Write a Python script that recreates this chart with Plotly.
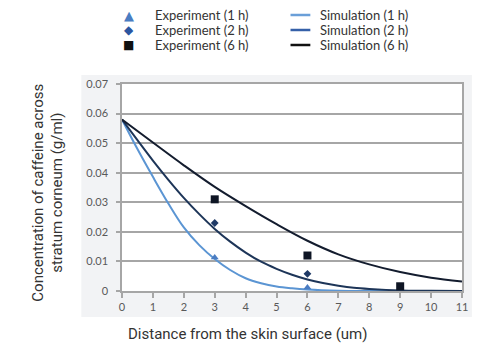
import plotly.graph_objects as go

# ---------------- data ----------------
sim_x_1h = [0, 0.5, 1, 1.5, 2, 2.5, 3, 3.5, 4, 4.5, 5, 5.5, 6, 7, 8, 9, 10, 11]
sim_y_1h = [0.058, 0.048, 0.0386, 0.0296, 0.0215, 0.0155, 0.0108, 0.0071, 0.0043, 0.0026, 0.0015, 0.0009, 0.0005, 0.0001, 0.0, 0.0, 0.0, 0.0]

sim_x_2h = [0, 0.5, 1, 1.5, 2, 2.5, 3, 3.5, 4, 4.5, 5, 5.5, 6, 6.5, 7, 7.5, 8, 9, 10, 11]
sim_y_2h = [0.058, 0.0510, 0.0441, 0.0376, 0.0315, 0.0260, 0.0210, 0.0167, 0.0130, 0.0099, 0.0075, 0.0055, 0.0039, 0.0027, 0.0018, 0.0011, 0.0007, 0.0002, 0.0001, 0.0]

sim_x_6h = [0, 1, 2, 3, 4, 5, 6, 7, 8, 9, 10, 11]
sim_y_6h = [0.058, 0.0502, 0.0425, 0.0352, 0.0287, 0.0226, 0.0170, 0.0124, 0.0090, 0.0064, 0.0045, 0.0032]

exp_x_1h = [3, 6]
exp_y_1h = [0.0113, 0.0012]
exp_x_2h = [3, 6]
exp_y_2h = [0.023, 0.0058]
exp_x_6h = [3, 6, 9]
exp_y_6h = [0.031, 0.012, 0.0016]

y_tickvals = [0, 0.01, 0.02, 0.03, 0.04, 0.05, 0.06, 0.07]
y_ticktext = ["0", "0.01", "0.02", "0.03", "0.04", "0.05", "0.06", "0.07"]
x_tickvals = list(range(0, 12))
x_ticktext = [str(v) for v in x_tickvals]

exp_labels = ["Experiment (1 h)", "Experiment (2 h)", "Experiment (6 h)"]
sim_labels = ["Simulation (1 h)", "Simulation (2 h)", "Simulation (6 h)"]

x_title = "Distance from the skin surface (um)"
y_title = "Concentration of caffeine across<br>stratum corneum (g/ml)"

# ---------------- styles ----------------
C1 = "#5b95d3"
C2 = "#1d3558"
C6 = "#131c2e"
M1 = "#4a7cc2"
M2 = "#1f3a66"
M6 = "#0e1524"
LEG_SIM = ["#6a9fd8", "#3560a8", "#111111"]
LEG_EXP = ["#4a7cc2", "#2c55a0", "#111111"]
LEG_SYM = ["▲", "◆", "■"]

TICK_FONT = dict(family="Lato, 'Open Sans', sans-serif", size=11, color="#595959")
LEG_FONT = dict(family="Lato, 'Open Sans', sans-serif", size=13, color="#333333")
TITLE_FONT = dict(family="Roboto, Arial, sans-serif", size=15, color="#333333")

# plot area pixel geometry
L, R, T, B = 122, 15, 84, 54
W, H = 480, 345
PW = W - L - R
PH = H - T - B


def px(x):
    return (x - L) / PW


def py(y):
    return (H - B - y) / PH


fig = go.Figure()

fig.add_trace(go.Scatter(x=sim_x_1h, y=sim_y_1h, mode="lines",
                         line=dict(color=C1, width=2, shape="spline", smoothing=1),
                         showlegend=False))
fig.add_trace(go.Scatter(x=sim_x_2h, y=sim_y_2h, mode="lines",
                         line=dict(color=C2, width=2, shape="spline", smoothing=1),
                         showlegend=False))
fig.add_trace(go.Scatter(x=sim_x_6h, y=sim_y_6h, mode="lines",
                         line=dict(color=C6, width=2, shape="spline", smoothing=1),
                         showlegend=False))
fig.add_trace(go.Scatter(x=exp_x_1h, y=exp_y_1h, mode="markers",
                         marker=dict(symbol="triangle-up", size=7, color=M1),
                         showlegend=False))
fig.add_trace(go.Scatter(x=exp_x_2h, y=exp_y_2h, mode="markers",
                         marker=dict(symbol="diamond", size=6, color=M2),
                         showlegend=False))
fig.add_trace(go.Scatter(x=exp_x_6h, y=exp_y_6h, mode="markers",
                         marker=dict(symbol="square", size=8, color=M6),
                         showlegend=False))

shapes = [
    # grey chart background
    dict(type="rect", xref="paper", yref="paper", layer="below",
         x0=px(81), x1=px(475), y0=py(317), y1=py(75),
         fillcolor="#f2f3f5", line=dict(width=0)),
    # white plot area
    dict(type="rect", xref="paper", yref="paper", layer="below",
         x0=0, x1=1, y0=0, y1=1,
         fillcolor="#ffffff", line=dict(width=0)),
]

annotations = []
row_y = [15, 30, 45]
for i in range(3):
    annotations.append(dict(xref="paper", yref="paper", x=px(129), y=py(row_y[i]),
                            text=LEG_SYM[i], showarrow=False, xanchor="center", yanchor="middle",
                            font=dict(family="DejaVu Sans", size=12 if i else 13, color=LEG_EXP[i])))
    annotations.append(dict(xref="paper", yref="paper", x=px(153), y=py(row_y[i]),
                            text=exp_labels[i], showarrow=False, xanchor="left", yanchor="middle",
                            font=LEG_FONT))
    shapes.append(dict(type="line", xref="paper", yref="paper",
                       x0=px(292), x1=px(312), y0=py(row_y[i]), y1=py(row_y[i]),
                       line=dict(color=LEG_SIM[i], width=2.5)))
    annotations.append(dict(xref="paper", yref="paper", x=px(320), y=py(row_y[i]),
                            text=sim_labels[i], showarrow=False, xanchor="left", yanchor="middle",
                            font=LEG_FONT))

annotations.append(dict(xref="paper", yref="paper", x=px(248.5), y=py(334),
                        text=x_title, showarrow=False, xanchor="center", yanchor="middle",
                        font=TITLE_FONT))
annotations.append(dict(xref="paper", yref="paper", x=px(47), y=py(193),
                        text=y_title, showarrow=False, xanchor="center", yanchor="middle",
                        textangle=-90, font=TITLE_FONT))

fig.update_layout(
    width=W, height=H,
    margin=dict(l=L, r=R, t=T, b=B, pad=0),
    paper_bgcolor="#ffffff",
    plot_bgcolor="rgba(0,0,0,0)",
    shapes=shapes,
    annotations=annotations,
    showlegend=False,
    xaxis=dict(range=[0, 11], tickvals=x_tickvals, ticktext=x_ticktext,
               showgrid=False, zeroline=False, showline=True, mirror=True,
               linecolor="#a6a6a6", linewidth=1.5,
               ticks="outside", ticklen=5, tickcolor="#a6a6a6", tickwidth=1.5,
               tickfont=TICK_FONT, fixedrange=True),
    yaxis=dict(range=[0, 0.07], tickvals=y_tickvals, ticktext=y_ticktext,
               showgrid=True, gridcolor="#a6a6a6", gridwidth=1.5,
               zeroline=False, showline=True, mirror=True,
               linecolor="#a6a6a6", linewidth=1.5,
               ticks="outside", ticklen=4, tickcolor="#a6a6a6", tickwidth=1.5,
               ticklabelstandoff=6,
               tickfont=TICK_FONT, fixedrange=True),
)

fig.write_html("out.html", config={"displayModeBar": False},
               post_script="document.body.style.margin='0px';")
